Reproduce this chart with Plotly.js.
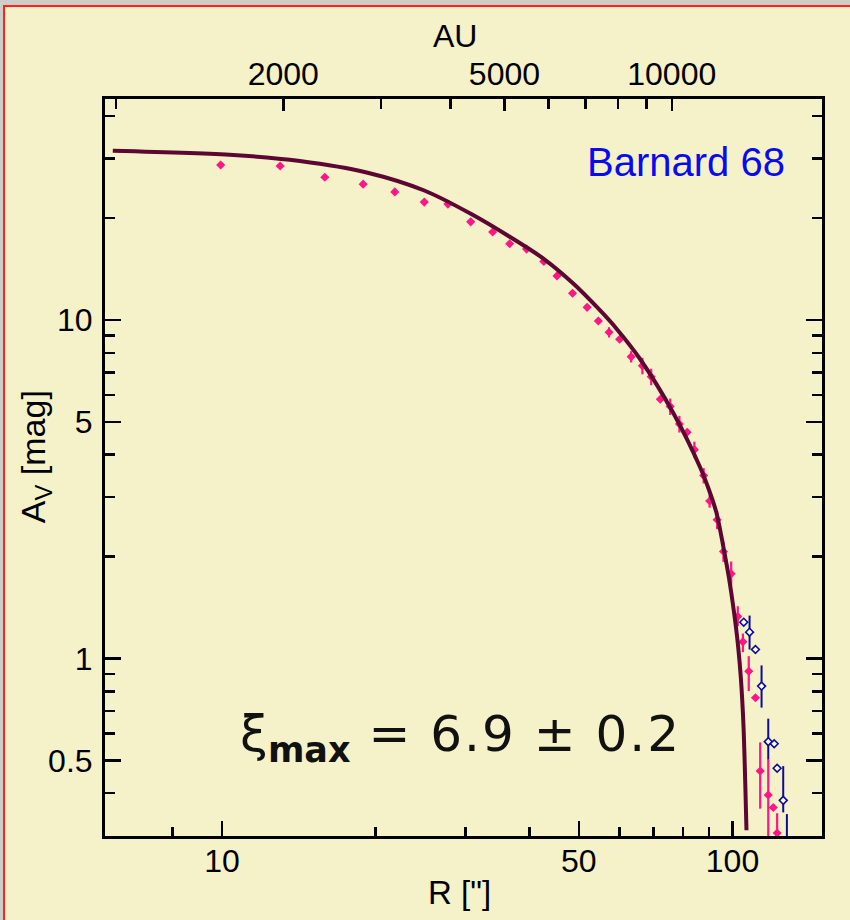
<!DOCTYPE html>
<html>
<head>
<meta charset="utf-8">
<script src="https://cdn.plot.ly/plotly-3.0.1.min.js"></script>
<style>
  html, body { margin: 0; padding: 0; }
  body { width: 850px; height: 920px; background: #cfcdc7; position: relative; overflow: hidden; }
  #wrap { position: absolute; left: 3px; top: 5px; width: 847px; height: 915px;
          border-left: 2px solid #ff2020; border-top: 2px solid #ff2020; background: #f5f2c9; }
  #chart { width: 845px; height: 913px; }
</style>
</head>
<body>
<div id="wrap"><div id="chart"></div></div>
<script>
// ---- data ----
// Model column-density curve (Bonnor-Ebert fit), R in arcsec, Av in mag
const curveR  = [6.11, 10.52, 14.21, 19.20, 24.90, 30.78, 36.66, 42.73, 48.64, 54.69, 59.32, 65.90,
                 76.56, 86.35, 89.95, 93.04, 95.81, 98.42, 100.67, 102.5, 103.9, 105.1, 106.5];
const curveAv = [31.63, 30.73, 29.49, 27.28, 24.13, 20.56, 17.59, 15.14, 12.86, 10.78, 9.41, 7.67,
                 5.31, 3.68, 3.147, 2.690, 2.164, 1.729, 1.372, 1.096, 0.864, 0.627, 0.311];

// Extinction data (filled pink diamonds)
const pinkR  = [9.94, 13.0, 15.9, 18.9, 21.8, 24.9, 27.7, 30.7, 33.9, 36.6, 39.5, 42.7, 45.3, 48.6, 51.9, 54.6,
                57.3, 60.1, 63.3, 66.6, 69.3, 72.2, 75.5, 78.7, 81.5, 84.2, 87.8, 90.2, 93.3, 96.0,
                99.4, 102.4, 104.8, 107.6, 110.9, 113.3, 117.5, 120.2, 122.3];
const pinkAv = [28.7, 28.5, 26.4, 25.2, 23.9, 22.3, 22.0, 19.5, 18.2, 16.8, 16.2, 14.9, 13.5, 12.0, 10.9, 9.93,
                9.2, 8.77, 7.79, 7.32, 6.80, 5.83, 5.55, 4.93, 4.66, 4.14, 3.47, 2.92, 2.57, 2.07,
                1.78, 1.33, 1.12, 0.917, 0.766, 0.465, 0.395, 0.363, 0.305];
const pinkErrUp   = [0, 0, 0, 0, 0, 0, 0, 0, 0, 0, 0, 0, 0, 0, 0, 0,
                     0.32, 0, 0.30, 0.41, 0.38, 0, 0.31, 0.28, 0, 0.23, 0.18, 0.13, 0.16, 0.14,
                     0.155, 0.097, 0.065, 0.099, 0, 0.10, 0.11, 0, 0.044];
const pinkErrDown = [0, 0, 0, 0, 0, 0, 0, 0, 0, 0, 0, 0, 0, 0, 0, 0,
                     0.32, 0, 0.30, 0.41, 0.38, 0, 0.31, 0.28, 0, 0.23, 0.18, 0.13, 0.16, 0.14,
                     0.138, 0.085, 0.076, 0.116, 0, 0.105, 0.11, 0, 0.10];

// Second data set (open blue diamonds) at the cloud edge
const blueR  = [105.2, 108.0, 110.9, 114.0, 117.5, 120.7, 122.3, 125.7, 127.8];
const blueAv = [1.28, 1.196, 1.063, 0.829, 0.568, 0.560, 0.474, 0.381, 0.27];
const blueErrUp   = [0, 0.143, 0, 0.125, 0.096, 0, 0, 0.10, 0.077];
const blueErrDown = [0, 0.133, 0, 0.113, 0.064, 0, 0, 0.03, 0.05];

// Tick definitions
const rTickVals  = [10, 50, 100];
const rTickText  = ['10', '50', '100'];
const rMinorVals = [8, 20, 30, 40, 60, 70, 80, 90];
const avTickVals  = [0.5, 1, 5, 10];
const avTickText  = ['0.5', '1', '5', '10'];
const avMinorVals = [0.4, 0.6, 0.7, 0.8, 0.9, 2, 3, 4, 6, 7, 8, 9, 20, 30, 40];
const auTickVals  = [2000, 5000, 10000];
const auTickText  = ['2000', '5000', '10000'];
const auMinorVals = [1000, 3000, 4000, 6000, 7000, 8000, 9000];

// ---- styles ----
const BG = '#f5f2c9';
const PINK = '#ff1585';
const NAVY = '#0c0c96';
const CURVE = '#5e0632';
const FONT = 'Liberation Sans, Arial, sans-serif';

const traces = [
  { x: pinkR, y: pinkAv, type: 'scatter', mode: 'markers', xaxis: 'x', yaxis: 'y',
    marker: { symbol: 'diamond', size: 7, color: PINK, line: { width: 0 } },
    error_y: { type: 'data', symmetric: false, array: pinkErrUp, arrayminus: pinkErrDown,
               color: PINK, thickness: 2.2, width: 0 },
    hoverinfo: 'x+y', showlegend: false },
  { x: blueR, y: blueAv, type: 'scatter', mode: 'markers', xaxis: 'x', yaxis: 'y',
    marker: { symbol: 'diamond', size: 6, color: '#ffffff', line: { width: 1.6, color: NAVY } },
    error_y: { type: 'data', symmetric: false, array: blueErrUp, arrayminus: blueErrDown,
               color: NAVY, thickness: 2, width: 0 },
    hoverinfo: 'x+y', showlegend: false },
  { x: curveR, y: curveAv, type: 'scatter', mode: 'lines', xaxis: 'x', yaxis: 'y',
    line: { color: CURVE, width: 4, shape: 'spline', smoothing: 0.8 },
    hoverinfo: 'skip', showlegend: false },
  // carrier for the top AU axis (no visible marks)
  { x: auTickVals, y: auTickVals.map(() => null), type: 'scatter', mode: 'markers',
    xaxis: 'x2', yaxis: 'y', hoverinfo: 'skip', showlegend: false, marker: { opacity: 0 } }
];

const axisCommon = {
  type: 'log', showgrid: false, zeroline: false, showline: true, linewidth: 3, linecolor: '#000',
  ticks: 'inside', tickwidth: 2.5, tickcolor: '#000',
  tickfont: { family: FONT, size: 32, color: '#000' }
};

const layout = {
  width: 845, height: 913,
  margin: { l: 100, r: 28, t: 92, b: 84 },
  paper_bgcolor: BG, plot_bgcolor: BG,
  showlegend: false,
  xaxis: Object.assign({}, axisCommon, {
    range: [0.7708, 2.1753], tickmode: 'array', tickvals: rTickVals, ticktext: rTickText,
    ticklen: 15, mirror: false, ticklabelstandoff: -5,
    minor: { tickmode: 'array', tickvals: rMinorVals, ticks: 'inside', ticklen: 9, tickwidth: 2.5, tickcolor: '#000', showgrid: false }
  }),
  xaxis2: Object.assign({}, axisCommon, {
    overlaying: 'x', side: 'top', anchor: 'y',
    range: [2.9803, 4.2703], tickmode: 'array', tickvals: auTickVals, ticktext: auTickText,
    ticklen: 12, ticklabelstandoff: -2,
    minor: { tickmode: 'array', tickvals: auMinorVals, ticks: 'inside', ticklen: 10, tickwidth: 2.5, tickcolor: '#000', showgrid: false }
  }),
  yaxis: Object.assign({}, axisCommon, {
    range: [-0.5244, 1.6529], tickmode: 'array', tickvals: avTickVals, ticktext: avTickText,
    ticklen: 16, mirror: 'ticks', ticklabelstandoff: 3,
    minor: { tickmode: 'array', tickvals: avMinorVals, ticks: 'inside', ticklen: 10, tickwidth: 2.5, tickcolor: '#000', showgrid: false }
  }),
  annotations: [
    { text: 'A<sub>V</sub> [mag]', xref: 'paper', yref: 'paper', x: -0.0976, y: 0.514,
      xanchor: 'center', yanchor: 'middle', textangle: -90, showarrow: false,
      font: { family: FONT, size: 34, color: '#000' } },
    { text: 'R ["]', xref: 'paper', yref: 'paper', x: 0.4951, y: -0.076,
      xanchor: 'center', yanchor: 'middle', showarrow: false,
      font: { family: FONT, size: 33, color: '#000' } },
    { text: 'AU', xref: 'paper', yref: 'paper', x: 0.488, y: 1.0855,
      xanchor: 'center', yanchor: 'middle', showarrow: false,
      font: { family: FONT, size: 32, color: '#000' } },
    { text: 'Barnard 68', xref: 'paper', yref: 'paper', x: 0.9512, y: 0.9145,
      xanchor: 'right', yanchor: 'middle', showarrow: false,
      font: { family: FONT, size: 40, color: '#0a0af0' } },
    { text: 'ξ<sub><b>max</b></sub><span style="letter-spacing:2px"> = 6.9 ± 0.2</span>',
      xref: 'paper', yref: 'paper', x: 0.1855, y: 0.133,
      xanchor: 'left', yanchor: 'middle', showarrow: false,
      font: { family: 'DejaVu Sans, Verdana, sans-serif', size: 50, color: '#111' } }
  ]
};

Plotly.newPlot('chart', traces, layout, { displayModeBar: false, staticPlot: true });
</script>
</body>
</html>
